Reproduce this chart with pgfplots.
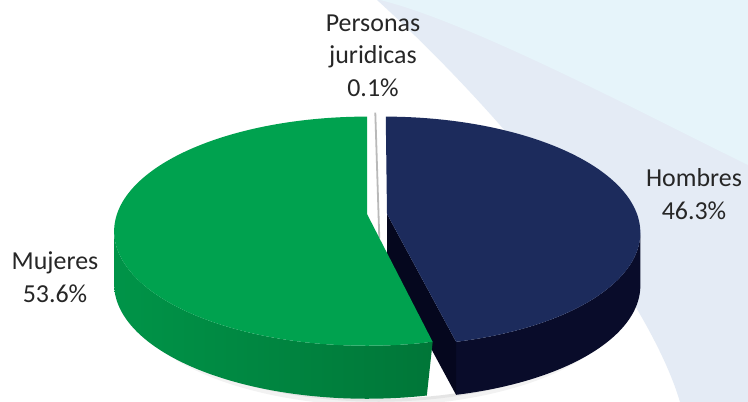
\documentclass[border=0pt]{standalone}
\usepackage{pgfplots}
\pgfplotsset{compat=1.18}
\usepackage{fontspec}
\setmainfont{Carlito}
\definecolor{mgreen}{RGB}{0,162,79}
\definecolor{gsideL}{RGB}{0,148,72}
\definecolor{gsideR}{RGB}{0,118,56}
\definecolor{navytop}{RGB}{28,43,92}
\definecolor{navyside}{RGB}{9,12,42}
\definecolor{navycut}{RGB}{5,7,30}
\definecolor{bgcyan}{RGB}{230,244,250}
\definecolor{bgblue}{RGB}{228,235,245}
\definecolor{lbl}{RGB}{38,38,38}
% data (percent)
\def\vPer{0.1}\def\vHom{46.3}\def\vMuj{53.6}
% geometry (pixels)
\def\cx{367}\def\cy{188}\def\rx{250}\def\ry{112}\def\kk{0.15}\def\dep{53}\def\ex{0.08}
\begin{document}
\begin{tikzpicture}[declare function={
 ang(\p,\a,\b)=(\p<=1)?(\a+(\b-\a)*\p):(\b-(\b-\a)*(\p-1));
 lev(\p)=(\p<=1)?0:1;
 PX(\t,\e)=\cx+\rx*(cos(\t)+\e)/(1+\kk*sin(\t));
 PY(\t)=\cy+\ry*sin(\t)/(1+\kk*sin(\t));
}]
\pgfmathsetmacro\aA{90}
\pgfmathsetmacro\aB{\aA-3.6*\vPer}
\pgfmathsetmacro\aC{\aB-3.6*\vHom}
\pgfmathsetmacro\aD{\aC-3.6*\vMuj}
\pgfmathsetmacro\sil{asin(\kk)}
\pgfmathsetmacro\gA{-180+\sil}
\pgfmathsetmacro\nE{-asin(\kk*(1+\ex))}
\pgfmathsetmacro\cutxn{PX(\aC,\ex)}
\pgfmathsetmacro\cuty{PY(\aC)}
\pgfmathsetmacro\cutyb{\cuty-\dep}
\pgfmathsetmacro\apxn{\cx+\rx*\ex}
\pgfmathsetmacro\apyb{\cy-\dep}
\pgfmathsetmacro\pmid{(\aA+\aB)/2}
\pgfmathsetmacro\pxt{PX(\pmid,0.035)}
\pgfmathsetmacro\pyt{PY(\pmid)+4}
\pgfmathsetmacro\pxb{\pxt+4}
\pgfmathsetmacro\pyb{\cy-24}
\begin{axis}[
 width=748bp, height=402bp, scale only axis,
 xmin=0, xmax=748, ymin=0, ymax=402,
 axis lines=none, clip=true,
]
% background
\fill[white] (axis cs:0,0) rectangle (axis cs:748,402);
\fill[bgblue] (axis cs:377,402) -- (axis cs:748,402) -- (axis cs:748,0) -- (axis cs:680,0)
  .. controls (axis cs:650,102) and (axis cs:520,272) .. (axis cs:377,402) -- cycle;
\fill[bgcyan] (axis cs:380,402) -- (axis cs:748,402) -- (axis cs:748,237)
  .. controls (axis cs:640,290) and (axis cs:470,380) .. (axis cs:380,402) -- cycle;
% soft shadow band under the lower edge
\addplot[fill=black, fill opacity=0.05, draw=none, domain=0:2, samples=161]
 ({PX(ang(x,-186,6),0.04)}, {PY(ang(x,-186,6))-\dep-7*lev(x)}) -- cycle;
\addplot[fill=black, fill opacity=0.05, draw=none, domain=0:2, samples=161]
 ({PX(ang(x,-186,6),0.04)}, {PY(ang(x,-186,6))-\dep-3*lev(x)}) -- cycle;
% Hombres: outer side
\addplot[fill=navyside, draw=none, domain=0:2, samples=161]
 ({PX(ang(x,\aC,\nE),\ex)}, {PY(ang(x,\aC,\nE))-\dep*lev(x)}) -- cycle;
% Hombres: cut face
\addplot[fill=navycut, draw=none] coordinates {(\apxn,\cy) (\cutxn,\cuty) (\cutxn,\cutyb) (\apxn,\apyb)} -- cycle;
% Hombres: top face
\addplot[fill=navytop, draw=none, domain=\aC:\aB, samples=150]
 ({PX(x,\ex)}, {PY(x)}) -- (axis cs:\apxn,\cy) -- cycle;
% Personas juridicas
\addplot[draw=gray!55, line width=1.8bp] coordinates {(\pxt,\pyt) (\pxb,\pyb)};
% Mujeres: outer side
\addplot[left color=gsideL, right color=gsideR, draw=none, domain=0:2, samples=161]
 ({PX(ang(x,\gA,\aC),0)}, {PY(ang(x,\gA,\aC))-\dep*lev(x)}) -- cycle;
% Mujeres: top face
\addplot[fill=mgreen, draw=none, domain=\aD:\aC, samples=180]
 ({PX(x,0)}, {PY(x)}) -- (axis cs:\cx,\cy) -- cycle;
% labels
\begin{scope}[every node/.style={anchor=base, text=lbl, font=\fontsize{26}{32}\selectfont, inner sep=0pt}]
\node at (axis cs:373,370) {Personas};
\node at (axis cs:373,338) {juridicas};
\node at (axis cs:373,305) {0.1\%};
\node at (axis cs:694,215) {Hombres};
\node at (axis cs:694,182) {46.3\%};
\node at (axis cs:55,132) {Mujeres};
\node at (axis cs:55,99) {53.6\%};
\end{scope}
\end{axis}
\end{tikzpicture}
\end{document}
